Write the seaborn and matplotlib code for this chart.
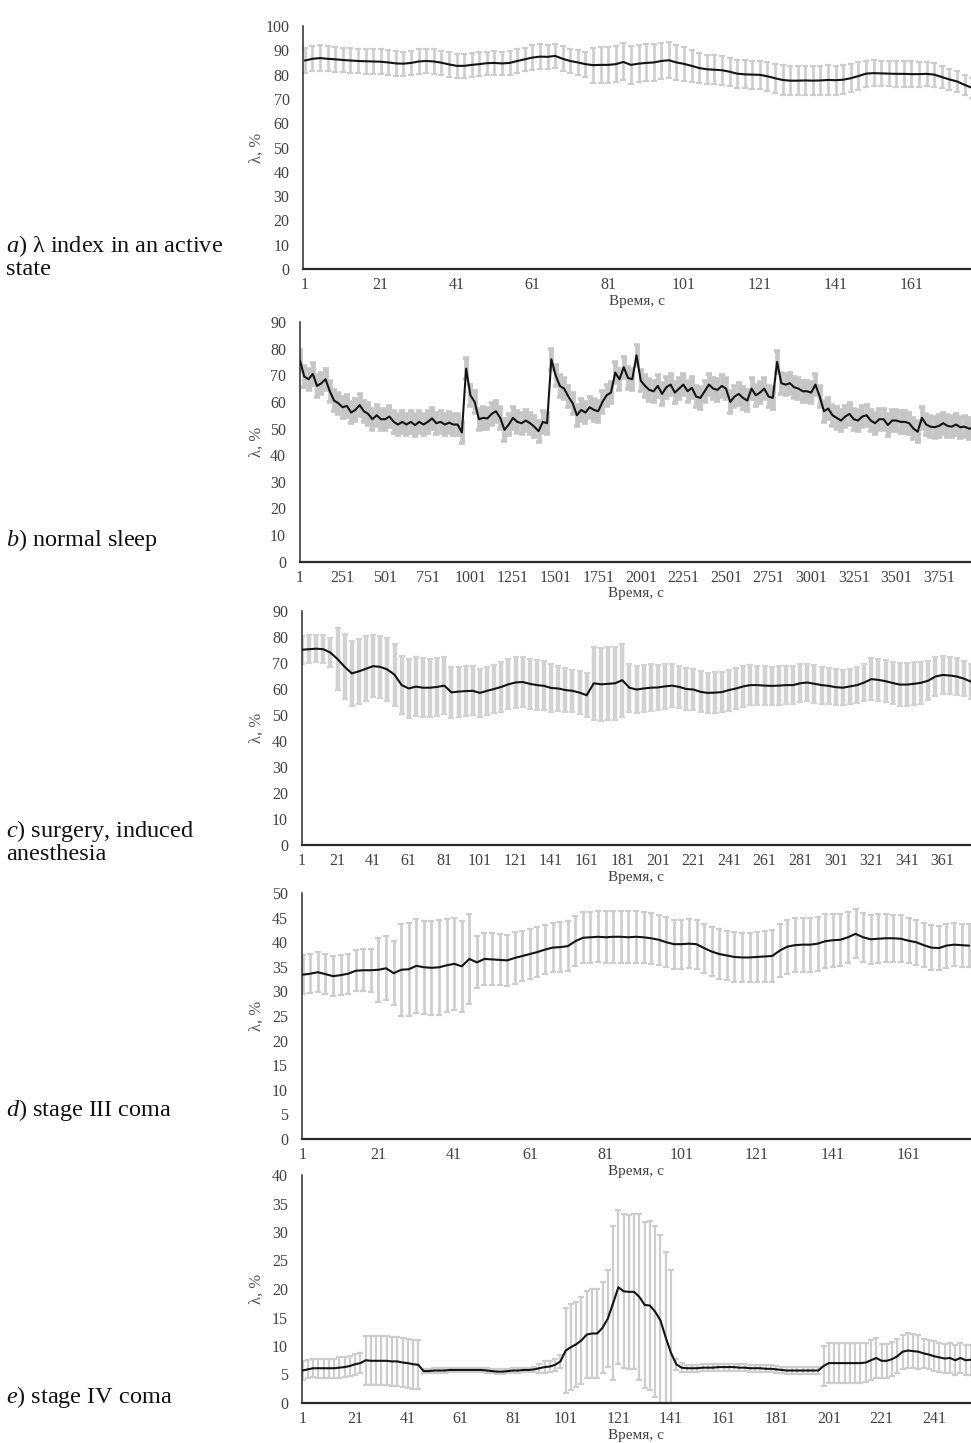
import numpy as np
import matplotlib
matplotlib.use("Agg")
import matplotlib.pyplot as plt
import seaborn as sns

# ------------------------------------------------------------------ data
# a) active state: mean lambda (%) every 2 s starting at 1 s, and error half-width
lam_a = [85.8, 86.5, 86.8, 86.5, 86.3, 86.0, 85.8, 85.6, 85.5, 85.4,
         85.3, 85.0, 84.6, 84.5, 84.8, 85.4, 85.6, 85.4, 84.9, 84.2,
         83.6, 83.6, 84.0, 84.3, 84.7, 84.8, 84.6, 84.8, 85.6, 86.3,
         87.0, 87.4, 87.3, 87.7, 86.5, 85.6, 85.0, 84.3, 83.9, 84.0,
         84.0, 84.3, 85.2, 84.0, 84.5, 84.8, 85.0, 85.6, 85.9, 85.0,
         84.4, 83.6, 82.7, 82.2, 82.0, 81.8, 81.2, 80.4, 80.1, 80.0,
         79.9, 79.3, 78.5, 77.8, 77.5, 77.5, 77.6, 77.5, 77.6, 77.8,
         77.7, 77.9, 78.5, 79.4, 80.4, 80.6, 80.5, 80.4, 80.3, 80.3,
         80.2, 80.2, 80.3, 80.0, 79.0, 78.0, 77.2, 75.8, 74.5]
sd_a = [5.1, 5.2, 5.2, 5.1, 5.1, 5.0, 5.0, 5.1, 5.1, 5.2,
        5.2, 5.1, 5.0, 5.0, 5.1, 5.1, 5.1, 5.0, 5.0, 5.0,
        4.9, 4.8, 4.8, 4.8, 4.7, 4.8, 4.8, 4.9, 4.8, 4.8,
        5.0, 5.0, 4.9, 5.0, 5.1, 5.0, 5.0, 5.1,
        7.2, 7.4, 7.5, 7.5, 7.6, 7.7, 7.7, 7.6, 7.5, 7.4, 7.4, 7.3, 7.0, 6.6,
        6.2, 6.0, 5.9, 5.9, 5.8, 5.8, 5.8, 5.8, 5.9, 5.9, 6.0, 6.0, 6.0,
        6.0, 6.1, 6.1, 6.1, 6.0, 6.0, 5.9, 5.8, 5.6, 5.4,
        5.3, 5.2, 5.2, 5.2, 5.2, 5.2, 5.1, 5.0, 4.9,
        4.6, 4.4, 4.2, 4.1, 4.0]

# b) normal sleep: mean lambda (%) every 25 s starting at 1 s
lam_b = [75.5, 69.5, 68.5, 70.5, 66.0, 67.0, 68.5, 64.0, 60.5, 59.5,
         58.0, 58.5, 56.0, 57.0, 58.8, 56.5, 55.5, 53.5, 55.0, 53.5,
         53.5, 54.5, 52.5, 51.5, 52.5, 51.5, 52.5, 51.3, 52.5, 51.5,
         52.5, 53.8, 52.0, 52.5, 51.5, 52.2, 51.5, 51.5, 48.5, 72.5,
         62.5, 60.0, 53.5, 54.0, 53.8, 55.5, 56.5, 54.0, 49.5, 51.5,
         54.0, 52.5, 52.0, 53.0, 52.0, 50.7, 49.0, 52.5, 52.0, 76.0,
         70.0, 66.0, 65.0, 62.0, 59.5, 55.0, 57.0, 56.0, 58.0, 57.0,
         56.5, 60.0, 62.5, 63.5, 71.0, 68.5, 73.0, 69.0, 68.5, 77.5,
         68.0, 66.0, 64.5, 64.0, 66.0, 63.0, 65.5, 66.5, 63.5, 65.0,
         66.5, 64.0, 65.3, 62.0, 61.5, 64.0, 66.5, 65.0, 64.5, 66.0,
         65.0, 60.0, 62.0, 63.0, 61.5, 60.5, 65.0, 62.5, 63.5, 65.0,
         62.0, 61.5, 75.0, 67.0, 66.5, 67.0, 65.5, 65.0, 64.0, 64.0,
         63.5, 66.5, 62.0, 56.5, 57.5, 55.0, 54.0, 53.0, 54.5, 55.5,
         53.5, 53.0, 54.5, 55.0, 53.0, 52.0, 53.5, 53.5, 51.3, 53.0,
         53.0, 52.5, 52.5, 52.0, 50.0, 48.8, 54.0, 51.5, 50.7, 50.5,
         51.0, 52.0, 51.0, 50.7, 51.5, 50.5, 50.7, 50.0, 50.0]
sd_b = 4.0

# c) surgery, induced anesthesia: mean lambda (%) every 4 s starting at 1 s
lam_c = [75.1, 75.3, 75.5, 75.3, 74.0, 71.5, 68.5, 66.0, 66.8, 67.8,
         68.8, 68.5, 67.5, 65.5, 61.5, 60.2, 60.9, 60.5, 60.5, 60.8,
         61.3, 58.7, 59.0, 59.2, 59.3, 58.5, 59.3, 60.0, 60.8, 61.8,
         62.5, 62.7, 62.0, 61.5, 61.2, 60.4, 60.2, 59.6, 59.3, 58.6,
         57.6, 62.2, 61.8, 62.0, 62.2, 63.4, 60.5, 59.8, 60.2, 60.5,
         60.6, 61.0, 61.3, 60.8, 60.0, 59.8, 58.9, 58.5, 58.6, 58.8,
         59.6, 60.2, 61.0, 61.5, 61.5, 61.3, 61.2, 61.3, 61.5, 61.5,
         62.2, 62.5, 62.0, 61.5, 61.2, 60.7, 60.5, 61.0, 61.5, 62.5,
         63.8, 63.5, 63.0, 62.3, 61.7, 61.7, 62.0, 62.4, 63.2, 64.8,
         65.4, 65.2, 64.8, 64.0, 62.8]
sd_c = [5.3, 5.3, 5.3, 5.3, 5.5,
        12.0, 12.5, 12.5, 12.5, 12.5,
        12.0, 12.0, 12.0, 12.0,
        11.3, 11.3, 11.3, 11.3, 11.2, 11.2, 11.0,
        9.8, 9.6, 9.5, 9.4, 9.2, 9.2, 9.3,
        9.5, 9.6, 9.8, 9.8, 9.7, 9.6, 9.4, 9.2,
        8.5, 8.3, 8.2, 8.2, 8.4,
        14.0, 14.0, 14.0, 14.0, 14.0,
        9.2, 9.2, 9.0, 9.0, 8.8, 8.6,
        8.2, 8.0, 8.0, 7.9, 7.9, 7.8, 7.8, 7.8, 7.9, 8.0, 8.0,
        7.6, 7.5, 7.5, 7.4, 7.4, 7.4, 7.3, 7.3, 7.2, 7.2, 7.1, 7.0, 7.0,
        6.8, 6.8, 6.9, 7.0,
        8.0, 8.0, 8.1, 8.2, 8.2, 8.3, 8.2, 8.0,
        7.6, 7.4, 7.3, 7.2, 7.0, 6.8, 6.8]

# d) stage III coma: mean lambda (%) every 2 s starting at 1 s
lam_d = [33.4, 33.6, 33.9, 33.5, 33.1, 33.3, 33.6, 34.2, 34.3, 34.3,
         34.4, 34.7, 33.7, 34.4, 34.5, 35.2, 34.9, 34.8, 34.9, 35.3,
         35.6, 35.1, 36.6, 35.9, 36.6, 36.5, 36.4, 36.3, 36.8, 37.2,
         37.6, 38.0, 38.5, 38.9, 39.0, 39.2, 40.2, 40.9, 41.0, 41.1,
         41.0, 41.1, 41.1, 41.0, 41.1, 41.0, 40.8, 40.5, 40.0, 39.6,
         39.6, 39.7, 39.6, 38.8, 38.1, 37.6, 37.3, 37.0, 36.9, 36.9,
         37.0, 37.1, 37.2, 38.3, 39.1, 39.4, 39.5, 39.5, 39.7, 40.2,
         40.4, 40.5, 41.0, 41.7, 41.0, 40.6, 40.7, 40.8, 40.8, 40.7,
         40.3, 40.0, 39.4, 38.9, 38.8, 39.3, 39.5, 39.4, 39.3]
sd_d = [4.0, 4.0, 4.1, 4.1, 4.0, 4.0, 4.1, 4.2, 4.3, 4.4,
        6.5, 6.5, 6.5,
        9.3, 9.5, 9.5, 9.5, 9.6, 9.6, 9.5, 9.4, 9.3, 9.2,
        5.3, 5.3, 5.3, 5.2, 5.2, 5.2, 5.1,
        5.0, 5.0, 5.0, 5.0, 5.1, 5.1, 5.1, 5.2,
        5.2, 5.2, 5.3, 5.3, 5.3, 5.3, 5.3, 5.2, 5.2, 5.1,
        5.1, 5.0, 5.0, 5.0, 5.0, 5.0, 5.0,
        5.0, 5.0, 5.0, 5.0, 5.0, 5.1, 5.2, 5.3, 5.4,
        5.5, 5.5, 5.5, 5.5, 5.5, 5.5, 5.4, 5.3, 5.2,
        5.0, 5.0, 5.0, 5.0, 4.9, 4.8, 4.8,
        4.6, 4.6, 4.5, 4.5, 4.5, 4.5, 4.4, 4.4, 4.4]

# e) stage IV coma: mean lambda (%) every 2 s starting at 1 s
lam_e = [5.7, 5.9, 6.1, 6.1, 6.1, 6.1, 6.1, 6.2, 6.3, 6.5,
         6.8, 7.0, 7.5, 7.4, 7.4, 7.4, 7.4, 7.3, 7.3, 7.1,
         7.0, 6.8, 6.7, 5.6, 5.6, 5.7, 5.7, 5.7, 5.8, 5.8,
         5.8, 5.8, 5.8, 5.8, 5.8, 5.7, 5.6, 5.5, 5.5, 5.6,
         5.7, 5.7, 5.8, 5.8, 5.9, 6.1, 6.3, 6.4, 6.7, 7.3,
         9.2, 9.8, 10.3, 11.0, 12.0, 12.2, 12.2, 13.2, 14.8, 17.5,
         20.3, 19.6, 19.5, 19.5, 18.6, 17.2, 17.1, 16.0, 14.5, 11.5,
         8.8, 6.8, 6.2, 6.1, 6.1, 6.1, 6.2, 6.2, 6.2, 6.3,
         6.3, 6.3, 6.3, 6.2, 6.2, 6.1, 6.1, 6.1, 6.0, 6.0,
         5.9, 5.8, 5.7, 5.7, 5.7, 5.7, 5.7, 5.7, 5.7, 6.5,
         7.0, 7.0, 7.0, 7.0, 7.0, 7.0, 7.0, 7.1, 7.5, 7.9,
         7.4, 7.4, 7.7, 8.2, 9.0, 9.2, 9.1, 9.0, 8.7, 8.5,
         8.2, 8.0, 7.8, 7.9, 7.5, 7.9, 7.5, 7.6]
sd_e = [1.6, 1.6, 1.6, 1.7, 1.7, 1.7, 1.7, 1.8, 1.8, 1.8, 1.8, 1.8,
        4.3, 4.3, 4.3, 4.3, 4.3, 4.3, 4.3, 4.3, 4.3, 4.3, 4.3,
        0.4, 0.4, 0.4, 0.4, 0.4, 0.4, 0.4, 0.4, 0.4, 0.4, 0.4,
        0.4, 0.4, 0.4, 0.4, 0.4, 0.4, 0.4, 0.4, 0.4, 0.4, 0.4,
        0.8, 1.0, 1.0, 1.1, 1.2,
        7.5, 7.5, 7.5, 7.6, 7.6, 7.8, 7.8, 8.0, 8.5,
        13.5, 13.5, 13.5, 13.5, 13.6,
        14.5, 14.5, 14.8, 15.0,
        15.0, 15.0, 14.5,
        1.0, 0.8,
        0.6, 0.6, 0.6, 0.6, 0.6, 0.6, 0.6, 0.6, 0.6, 0.6, 0.6, 0.6, 0.6,
        0.6, 0.6, 0.6, 0.6, 0.6, 0.6, 0.6, 0.6, 0.6, 0.6, 0.6, 0.6, 0.6,
        3.5, 3.5, 3.5, 3.5, 3.5, 3.5, 3.5, 3.5, 3.5, 3.5, 3.5,
        3.0, 3.0, 3.0, 3.0, 3.0, 3.0, 3.0, 3.0,
        2.6, 2.6, 2.6, 2.6, 2.6, 2.6, 2.6, 2.6, 2.6, 2.6]

step_a, step_b, step_c, step_d, step_e = 2, 25, 4, 2, 2

xticks_a = [1, 21, 41, 61, 81, 101, 121, 141, 161]
xticks_b = [1, 251, 501, 751, 1001, 1251, 1501, 1751, 2001, 2251, 2501,
            2751, 3001, 3251, 3501, 3751]
xticks_c = [1, 21, 41, 61, 81, 101, 121, 141, 161, 181, 201, 221, 241,
            261, 281, 301, 321, 341, 361]
xticks_d = [1, 21, 41, 61, 81, 101, 121, 141, 161]
xticks_e = [1, 21, 41, 61, 81, 101, 121, 141, 161, 181, 201, 221, 241]

yticks_a = [0, 10, 20, 30, 40, 50, 60, 70, 80, 90, 100]
yticks_b = [0, 10, 20, 30, 40, 50, 60, 70, 80, 90]
yticks_c = [0, 10, 20, 30, 40, 50, 60, 70, 80, 90]
yticks_d = [0, 5, 10, 15, 20, 25, 30, 35, 40, 45, 50]
yticks_e = [0, 5, 10, 15, 20, 25, 30, 35, 40]

panel_labels = ["$a$) λ index in an active\nstate",
                "$b$) normal sleep",
                "$c$) surgery, induced\nanesthesia",
                "$d$) stage III coma",
                "$e$) stage IV coma"]
x_title = "Время, с"
y_title = "λ, %"

# ------------------------------------------------------------------ style
sns.set_theme(style="white")
plt.rcParams["font.family"] = ["Liberation Serif", "DejaVu Serif"]
plt.rcParams["mathtext.fontset"] = "custom"
plt.rcParams["mathtext.it"] = "Liberation Serif:italic"
plt.rcParams["mathtext.rm"] = "Liberation Serif"

W, H = 971, 1443
fig = plt.figure(figsize=(W / 100, H / 100), dpi=100)
fig.patch.set_facecolor("white")

# layout in pixels: (left, top, bottom, xlim, label centre y)
layout = [
    (303.4, 26.0, 269.0, (0.6, 176.7), 256.5),
    (300.0, 322.0, 561.7, (1.0, 3939.0), 540.0),
    (302.0, 611.0, 845.0, (1.0, 377.0), 841.5),
    (302.0, 893.0, 1139.0, (0.8, 177.5), 1110.0),
    (302.0, 1175.0, 1403.0, (0.8, 255.0), 1397.0),
]

series = [
    (lam_a, sd_a, step_a, xticks_a, yticks_a),
    (lam_b, sd_b, step_b, xticks_b, yticks_b),
    (lam_c, sd_c, step_c, xticks_c, yticks_c),
    (lam_d, sd_d, step_d, xticks_d, yticks_d),
    (lam_e, sd_e, step_e, xticks_e, yticks_e),
]

# error-bar widths (pt) chosen per panel so the band keeps the hatched look
ebar_width = [1.9, 3.4, 3.2, 1.9, 1.6]
ebar_color = ["#cdcdcd", "#c6c6c6", "#d2d2d2", "#cdcdcd", "#cdcdcd"]

tick_color = "#404040"
for i, ((left, top, bottom, xlim, lab_y), (mean, sd, step, xt, yt)) in enumerate(zip(layout, series)):
    ax = fig.add_axes([left / W, 1 - bottom / H, (W - left) / W, (bottom - top) / H])
    t = 1 + step * np.arange(len(mean))
    mean = np.asarray(mean, dtype=float)
    err = np.asarray(sd, dtype=float) if np.ndim(sd) else np.full(len(mean), sd)

    ax.errorbar(t, mean, yerr=err, fmt="none", ecolor=ebar_color[i],
                elinewidth=ebar_width[i], capsize=2.4, capthick=1.6 if i != 1 else 2.6,
                zorder=1)
    sns.lineplot(x=t, y=mean, ax=ax, color="#141414", linewidth=1.5, zorder=3)

    ax.set_xlim(*xlim)
    ax.set_ylim(yt[0], yt[-1])
    ax.set_xticks(xt)
    ax.set_xticklabels([str(v) for v in xt])
    ax.set_yticks(yt)
    ax.set_yticklabels([str(v) for v in yt])
    ax.tick_params(axis="both", length=0, labelsize=11.5, labelcolor=tick_color)
    ax.tick_params(axis="x", pad=6)
    ax.tick_params(axis="y", pad=10)
    ax.set_xlabel("")
    ax.set_ylabel("")
    for s in ("top", "right"):
        ax.spines[s].set_visible(False)
    ax.spines["left"].set_color("#2a2a2a")
    ax.spines["left"].set_linewidth(1.1)
    ax.spines["bottom"].set_color("#2a2a2a")
    ax.spines["bottom"].set_linewidth(1.6)
    ax.patch.set_alpha(0)

    ax.annotate(x_title, xy=(0.5, 0), xycoords="axes fraction",
                xytext=(0, -18.5), textcoords="offset points",
                ha="center", va="top", fontsize=11, color=tick_color)
    ax.text((257 - left) / (W - left), 0.5, y_title, transform=ax.transAxes,
            rotation=90, ha="center", va="center", fontsize=12, color="#555555")

    fig.text(6 / W, 1 - lab_y / H, panel_labels[i], ha="left", va="center",
             fontsize=17.5, color="#111111", linespacing=0.95)

fig.savefig("out.png", dpi=100, facecolor="white")
